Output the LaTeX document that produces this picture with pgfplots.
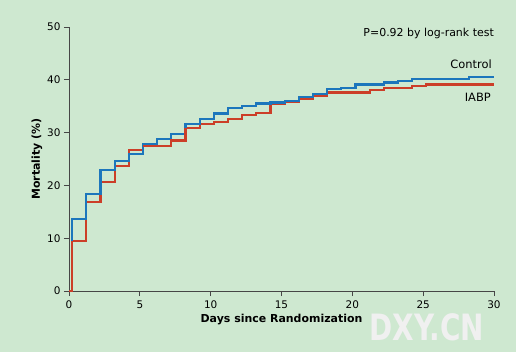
\documentclass[border=0pt]{standalone}
\usepackage{pgfplots}
\pgfplotsset{compat=1.18}
\usetikzlibrary{backgrounds,calc}
\usepackage{fontspec}
\setmainfont{DejaVu Sans}
\definecolor{bg}{RGB}{206,232,208}
\definecolor{ctl}{RGB}{28,118,188}
\definecolor{iabp}{RGB}{204,62,40}
\definecolor{axc}{RGB}{70,70,70}
\begin{document}
\begin{tikzpicture}
\begin{axis}[
  name=ax,
  scale only axis, width=425bp, height=264bp,
  xmin=0, xmax=30, ymin=0, ymax=50,
  axis lines=left, axis line style={axc, line width=1pt, -},
  xtick={0,5,...,30}, ytick={0,10,...,50},
  tick style={axc, line width=1pt},
  tick align=outside, major tick length=5bp,
  x tick label style={font=\fontsize{10.5}{12}\selectfont, yshift=-1bp},
  y tick label style={font=\fontsize{10.5}{12}\selectfont},
  /pgf/number format/assume math mode=true,
  xlabel={\bfseries Days since Randomization},
  ylabel={\bfseries Mortality (\%)},
  label style={font=\fontsize{11}{12}\selectfont},
  xlabel style={yshift=1bp},
  ylabel style={yshift=-2bp},
  clip=false,
]
\addplot[const plot, iabp, line width=2.2pt] coordinates {
(0,0) (0.22,0) (0.22,9.4) (1.22,16.9) (2.22,20.6) (3.22,23.6) (4.22,26.7) (5.22,27.5)
(7.22,28.5) (8.22,30.9) (9.22,31.6) (10.22,32.0) (11.22,32.6) (12.22,33.3) (13.22,33.7)
(14.22,35.4) (15.22,35.9) (16.22,36.4) (17.22,37.0) (18.22,37.6) (21.22,38.0) (22.22,38.4)
(24.22,38.8) (25.22,39.1) (30,39.1)};
\addplot[const plot, ctl, line width=2.2pt] coordinates {
(0.22,9.4) (0.22,13.6) (1.22,18.3) (2.22,22.9) (3.22,24.6) (4.22,26.0) (5.22,27.8)
(6.22,28.8) (7.22,29.8) (8.22,31.6) (9.22,32.6) (10.22,33.6) (11.22,34.6) (12.22,35.0)
(13.22,35.5) (14.22,35.7) (15.22,36.0) (16.22,36.8) (17.22,37.3) (18.22,38.2) (19.22,38.4)
(20.22,39.1) (22.22,39.5) (23.22,39.8) (24.22,40.2) (28.22,40.6) (30,40.6)};
\addplot[const plot, iabp, line width=2.2pt] coordinates {(5.22,27.5) (7.22,28.5) (8.22,30.9)};
\end{axis}
\coordinate (O) at ($(ax.south west)+(-69bp,-61bp)$);
\begin{scope}[on background layer]
\fill[bg] (O) rectangle ++(516bp,352bp);
\end{scope}
\begin{scope}[shift={(O)}, x=1bp, y=1bp]
\node[anchor=east, font=\fontsize{11}{12}\selectfont, inner sep=0] at (494,319) {P=0.92 by log-rank test};
\node[anchor=east, font=\fontsize{11.5}{12}\selectfont, inner sep=0] at (492,288) {Control};
\node[anchor=east, font=\fontsize{11.5}{12}\selectfont, inner sep=0] at (491,255) {IABP};
\node[font=\fontsize{28}{30}\selectfont\bfseries, text=white!88!gray, inner sep=0, yscale=1.3, transform shape] at (427,25) {DXY.CN};
\end{scope}
\end{tikzpicture}
\end{document}
